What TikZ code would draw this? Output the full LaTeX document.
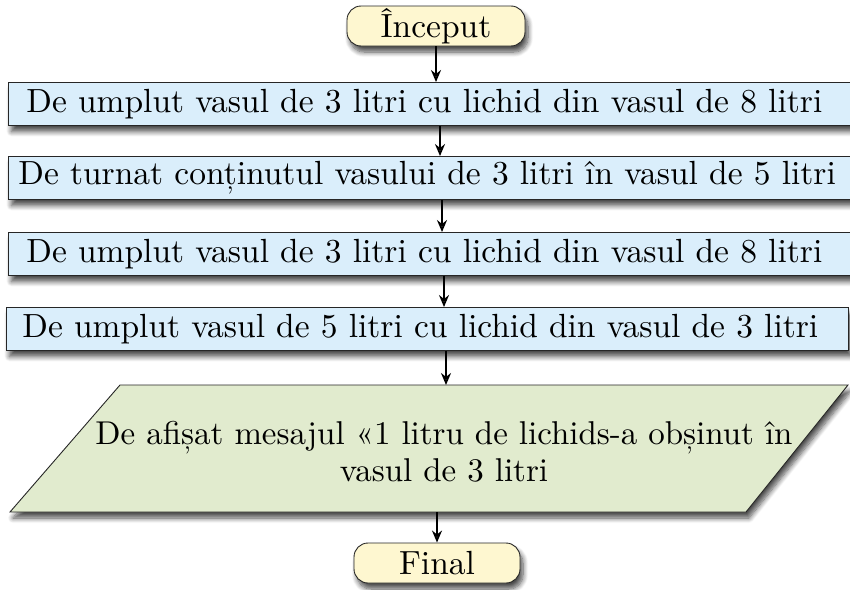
\documentclass[tikz,border=0pt]{standalone}
\usepackage{fontspec}
\setmainfont{lmroman10-regular.otf}
\usetikzlibrary{arrows.meta,shadows.blur}
\definecolor{startfill}{RGB}{254,247,208}
\definecolor{procfill}{RGB}{218,238,251}
\definecolor{iofill}{RGB}{225,235,206}
\begin{document}
\begin{tikzpicture}[x=1pt,y=-1pt,
  font=\fontsize{33.5}{37}\selectfont,
  shad/.style={blur shadow={shadow xshift=3pt,shadow yshift=-6pt,shadow blur radius=5pt,shadow blur steps=8,shadow opacity=70}},
  term/.style={draw=black!85,line width=0.9pt,fill=startfill,rounded corners=14pt,minimum width=178pt,minimum height=40pt,inner sep=0pt,shad},
  proc/.style={draw=black!85,line width=0.9pt,fill=procfill,minimum height=43pt,inner ysep=0pt,anchor=west,align=left,shad},
  arr/.style={line width=1.7pt,-{Stealth[length=12pt,width=10pt]}}]
\useasboundingbox (0,0) rectangle (850,589);
% nodes
\node[term] (start) at (436,26) {Început};
\node[proc,inner xsep=18pt,text width=830pt] (b1) at (8,104) {De umplut vasul de 3 litri cu lichid din vasul de 8 litri};
\node[proc,inner xsep=10pt,text width=840pt] (b2) at (8,178) {De turnat conținutul vasului de 3 litri în vasul de 5 litri};
\node[proc,inner xsep=18pt,text width=830pt] (b3) at (8,254) {De umplut vasul de 3 litri cu lichid din vasul de 8 litri};
\node[proc,inner xsep=16pt,text width=810pt] (b4) at (6,329) {De umplut vasul de 5 litri cu lichid din vasul de 3 litri};
\path[draw=black!85,line width=0.9pt,fill=iofill,shad]
  (120,385) coordinate (ptl) -- (848,385) coordinate (ptr) -- (746,512) coordinate (pbr) -- (10,512) coordinate (pbl) -- cycle;
\node[align=center,inner sep=0pt,font=\fontsize{33}{37}\selectfont] (ptext) at (444,452) {De afișat mesajul «1 litru de lichids-a obșinut în\\vasul de 3 litri};
\node[term,minimum width=166pt] (fin) at (437,563) {Final};
% arrow positions
\coordinate (a1) at (436,0);
\coordinate (a2) at (440,0);
\coordinate (a3) at (442,0);
\coordinate (a4) at (444,0);
\coordinate (a5) at (446,0);
\coordinate (a6) at (437,0);
\coordinate (ptop) at (446,385);
\coordinate (pbot) at (437,512);
% connectors
\draw[arr] (start.south -| a1) -- (b1.north -| a1);
\draw[arr] (b1.south -| a2) -- (b2.north -| a2);
\draw[arr] (b2.south -| a3) -- (b3.north -| a3);
\draw[arr] (b3.south -| a4) -- (b4.north -| a4);
\draw[arr] (b4.south -| a5) -- (ptop);
\draw[arr] (pbot) -- (fin.north -| a6);
\end{tikzpicture}
\end{document}
